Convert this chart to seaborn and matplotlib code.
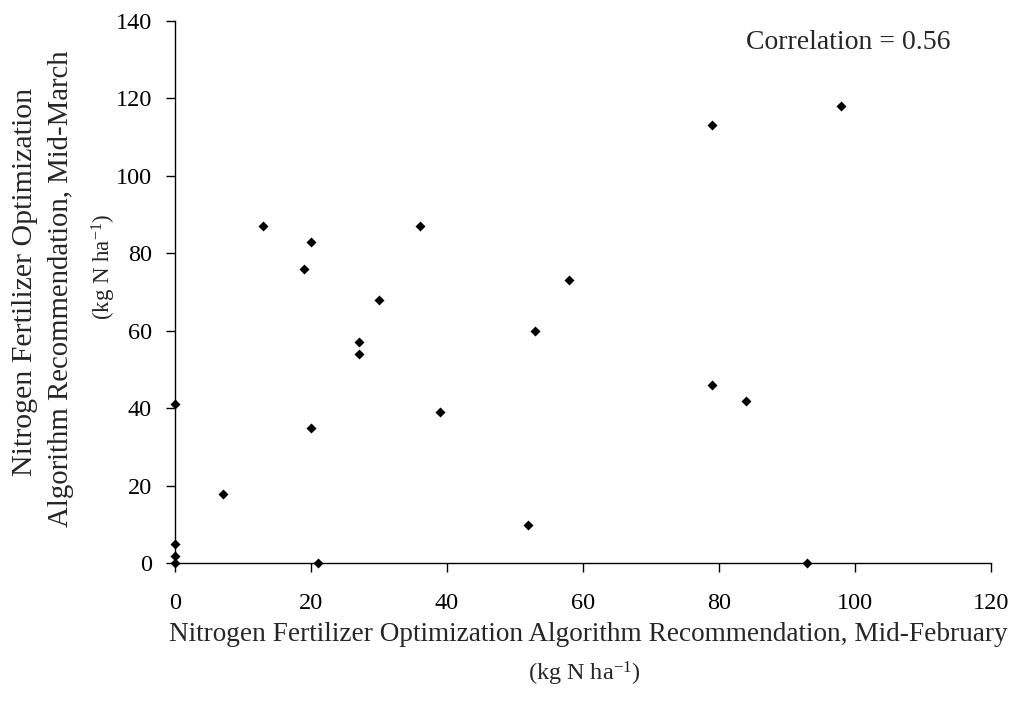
import matplotlib
matplotlib.use("Agg")
import matplotlib.pyplot as plt
import seaborn as sns
import pandas as pd

# Fertilizer N recommendations (kg N/ha) for the same fields at two dates
feb_rec = [0, 0, 0, 0, 7, 13, 19, 20, 20, 21, 27, 27, 30, 36, 39,
           52, 53, 58, 79, 79, 84, 93, 98]
mar_rec = [0, 2, 5, 41, 18, 87, 76, 83, 35, 0, 57, 54, 68, 87, 39,
           10, 60, 73, 113, 46, 42, 0, 118]
x_ticks = [0, 20, 40, 60, 80, 100, 120]
y_ticks = [0, 20, 40, 60, 80, 100, 120, 140]
corr_label = "Correlation = 0.56"

df = pd.DataFrame({"feb": feb_rec, "mar": mar_rec})

sns.set_style("ticks")
plt.rcParams["font.family"] = ["Liberation Serif", "DejaVu Serif"]
plt.rcParams["mathtext.fontset"] = "custom"
plt.rcParams["mathtext.rm"] = "Liberation Serif"
plt.rcParams["mathtext.default"] = "regular"

W, H = 1014, 709
fig = plt.figure(figsize=(W / 100, H / 100), dpi=100)
ax = fig.add_axes([175 / W, 1 - 563.3 / H, (990.7 - 175) / W, (563.3 - 20.7) / H])

sns.scatterplot(data=df, x="feb", y="mar", ax=ax, marker="D", color="black",
                s=26, linewidth=0, clip_on=False, zorder=5)

ax.set_xlim(0, 120)
ax.set_ylim(0, 140)
ax.set_xticks(x_ticks)
ax.set_yticks(y_ticks)
ax.set_xticklabels([str(v) for v in x_ticks])
ax.set_yticklabels([str(v) for v in y_ticks])
ax.tick_params(axis="x", direction="out", length=6.5, width=1, colors="black",
               labelsize=17.5, pad=15)
ax.tick_params(axis="y", direction="out", length=6.5, width=1, colors="black",
               labelsize=17.5, pad=10)
for side in ("top", "right"):
    ax.spines[side].set_visible(False)
for side in ("left", "bottom"):
    ax.spines[side].set_color("black")
    ax.spines[side].set_linewidth(1)
ax.set_xlabel("")
ax.set_ylabel("")

# x-axis title (two lines)
fig.text(588 / W, 1 - 641 / H,
         "Nitrogen Fertilizer Optimization Algorithm Recommendation, Mid-February",
         ha="center", va="baseline", fontsize=19.6)
fig.text(584 / W, 1 - 680 / H, "(kg N ha$^{-1}$)",
         ha="center", va="baseline", fontsize=17.5)

# y-axis title (three rotated lines, placed by baseline)
ylab_kw = dict(rotation=90, rotation_mode="anchor", ha="center", va="baseline")
fig.text(32 / W, 1 - 282 / H, "Nitrogen Fertilizer Optimization",
         fontsize=21.5, **ylab_kw)
fig.text(68 / W, 1 - 289 / H, "Algorithm Recommendation, Mid-March",
         fontsize=20.7, **ylab_kw)
fig.text(111 / W, 1 - 267 / H, "(kg N ha$^{-1}$)",
         fontsize=16.5, **ylab_kw)

ax.text(0.70, 0.948, corr_label, transform=ax.transAxes, fontsize=20,
        ha="left", va="baseline")

fig.savefig("out.png", dpi=100)
